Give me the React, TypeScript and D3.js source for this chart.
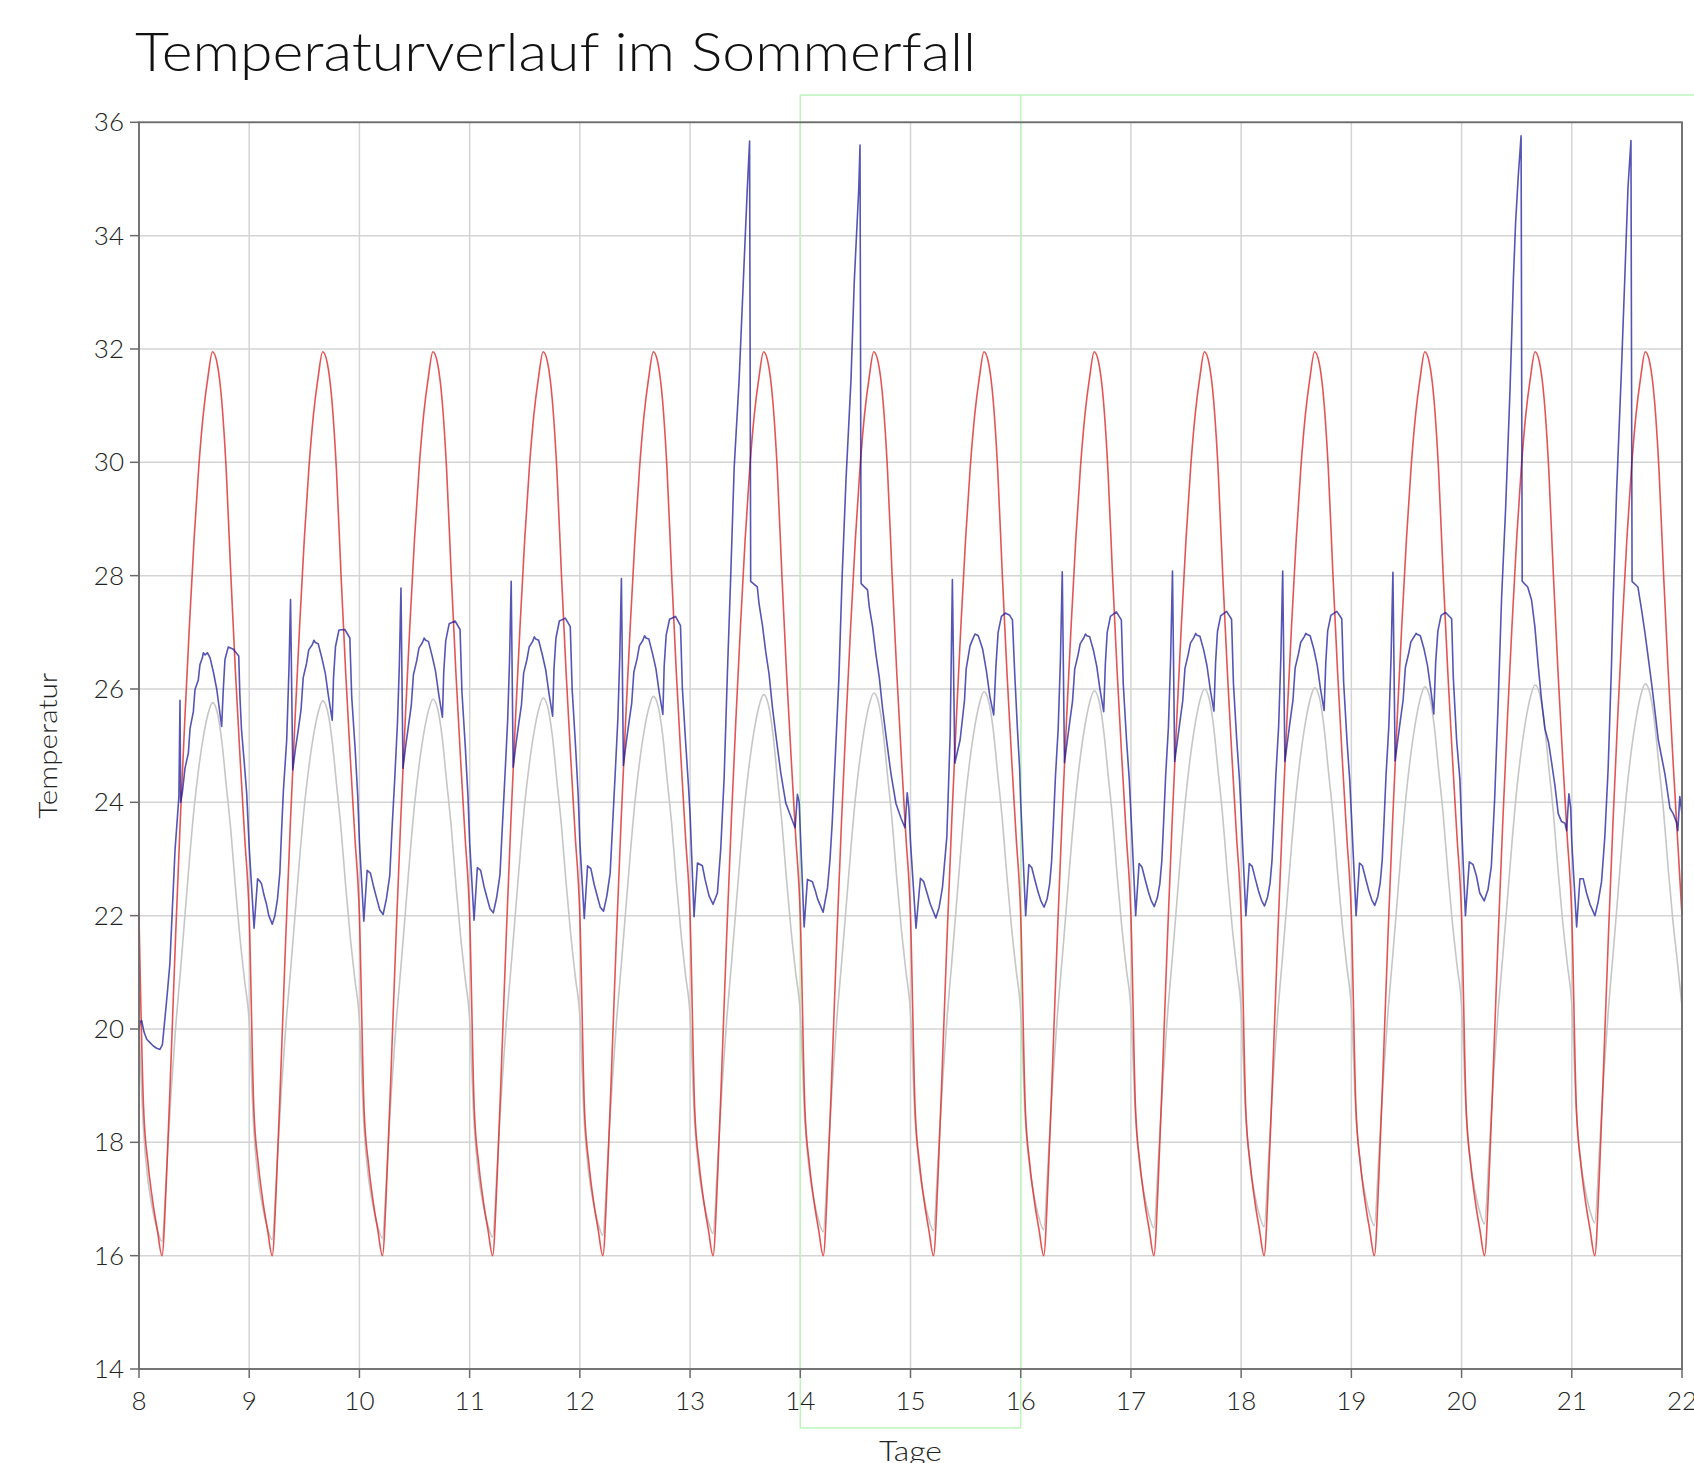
import React from 'react';
import * as d3 from 'd3';

// ---------- texts ----------
const chartTitle = 'Temperaturverlauf im Sommerfall';
const xAxisLabel = 'Tage';
const yAxisLabel = 'Temperatur';

// ---------- axes ----------
const xTicks = [8, 9, 10, 11, 12, 13, 14, 15, 16, 17, 18, 19, 20, 21, 22];
const yTicks = [14, 16, 18, 20, 22, 24, 26, 28, 30, 32, 34, 36];
const xDomain = [8, 22];
const yDomain = [14, 36];
const firstDay = 8;

// ---------- highlight (green frame) ----------
const highlightDays = [14, 16];
const highlightTempRange = [12.96, 36.48];
const highlightTopLineEnd = 22.11;

// ---------- outdoor temperature (red), hourly values h0..h23 per day ----------
const outdoorDays: number[][] = [
  [22.0, 18.6, 17.6, 16.95, 16.45, 16.0, 17.4, 19.5, 21.7, 23.7, 25.5, 27.15, 28.65, 29.9, 30.85, 31.5, 31.95, 31.75, 31.1, 29.85, 28.0, 26.3, 24.8, 23.4],
  [22.0, 18.6, 17.6, 16.95, 16.45, 16.0, 17.4, 19.5, 21.7, 23.7, 25.5, 27.15, 28.65, 29.9, 30.85, 31.5, 31.95, 31.75, 31.1, 29.85, 28.0, 26.3, 24.8, 23.4],
  [22.0, 18.6, 17.6, 16.95, 16.45, 16.0, 17.4, 19.5, 21.7, 23.7, 25.5, 27.15, 28.65, 29.9, 30.85, 31.5, 31.95, 31.75, 31.1, 29.85, 28.0, 26.3, 24.8, 23.4],
  [22.0, 18.6, 17.6, 16.95, 16.45, 16.0, 17.4, 19.5, 21.7, 23.7, 25.5, 27.15, 28.65, 29.9, 30.85, 31.5, 31.95, 31.75, 31.1, 29.85, 28.0, 26.3, 24.8, 23.4],
  [22.0, 18.6, 17.6, 16.95, 16.45, 16.0, 17.4, 19.5, 21.7, 23.7, 25.5, 27.15, 28.65, 29.9, 30.85, 31.5, 31.95, 31.75, 31.1, 29.85, 28.0, 26.3, 24.8, 23.4],
  [22.0, 18.6, 17.6, 16.95, 16.45, 16.0, 17.4, 19.5, 21.7, 23.7, 25.5, 27.15, 28.65, 29.9, 30.85, 31.5, 31.95, 31.75, 31.1, 29.85, 28.0, 26.3, 24.8, 23.4],
  [22.0, 18.6, 17.6, 16.95, 16.45, 16.0, 17.4, 19.5, 21.7, 23.7, 25.5, 27.15, 28.65, 29.9, 30.85, 31.5, 31.95, 31.75, 31.1, 29.85, 28.0, 26.3, 24.8, 23.4],
  [22.0, 18.6, 17.6, 16.95, 16.45, 16.0, 17.4, 19.5, 21.7, 23.7, 25.5, 27.15, 28.65, 29.9, 30.85, 31.5, 31.95, 31.75, 31.1, 29.85, 28.0, 26.3, 24.8, 23.4],
  [22.0, 18.6, 17.6, 16.95, 16.45, 16.0, 17.4, 19.5, 21.7, 23.7, 25.5, 27.15, 28.65, 29.9, 30.85, 31.5, 31.95, 31.75, 31.1, 29.85, 28.0, 26.3, 24.8, 23.4],
  [22.0, 18.6, 17.6, 16.95, 16.45, 16.0, 17.4, 19.5, 21.7, 23.7, 25.5, 27.15, 28.65, 29.9, 30.85, 31.5, 31.95, 31.75, 31.1, 29.85, 28.0, 26.3, 24.8, 23.4],
  [22.0, 18.6, 17.6, 16.95, 16.45, 16.0, 17.4, 19.5, 21.7, 23.7, 25.5, 27.15, 28.65, 29.9, 30.85, 31.5, 31.95, 31.75, 31.1, 29.85, 28.0, 26.3, 24.8, 23.4],
  [22.0, 18.6, 17.6, 16.95, 16.45, 16.0, 17.4, 19.5, 21.7, 23.7, 25.5, 27.15, 28.65, 29.9, 30.85, 31.5, 31.95, 31.75, 31.1, 29.85, 28.0, 26.3, 24.8, 23.4],
  [22.0, 18.6, 17.6, 16.95, 16.45, 16.0, 17.4, 19.5, 21.7, 23.7, 25.5, 27.15, 28.65, 29.9, 30.85, 31.5, 31.95, 31.75, 31.1, 29.85, 28.0, 26.3, 24.8, 23.4],
  [22.0, 18.6, 17.6, 16.95, 16.45, 16.0, 17.4, 19.5, 21.7, 23.7, 25.5, 27.15, 28.65, 29.9, 30.85, 31.5, 31.95, 31.75, 31.1, 29.85, 28.0, 26.3, 24.8, 23.4],
];
const outdoorLast = 22.0;

// ---------- grey series, hourly values h0..h23 per day ----------
const greyDays: number[][] = [
  [20.1, 18.2, 17.3, 16.8, 16.45, 16.25, 17.5, 18.9, 20.05, 21.0, 22.0, 23.0, 23.9, 24.6, 25.15, 25.55, 25.76, 25.6, 25.1, 24.3, 23.5, 22.5, 21.6, 20.85],
  [20.13, 18.23, 17.33, 16.83, 16.48, 16.28, 17.53, 18.93, 20.08, 21.03, 22.03, 23.03, 23.93, 24.63, 25.18, 25.58, 25.79, 25.63, 25.13, 24.33, 23.53, 22.53, 21.63, 20.88],
  [20.16, 18.26, 17.36, 16.86, 16.51, 16.31, 17.56, 18.96, 20.11, 21.06, 22.06, 23.06, 23.96, 24.66, 25.21, 25.61, 25.82, 25.66, 25.16, 24.36, 23.56, 22.56, 21.66, 20.91],
  [20.18, 18.28, 17.38, 16.88, 16.53, 16.33, 17.58, 18.98, 20.13, 21.08, 22.08, 23.08, 23.98, 24.68, 25.23, 25.63, 25.84, 25.68, 25.18, 24.38, 23.58, 22.58, 21.68, 20.93],
  [20.21, 18.31, 17.41, 16.91, 16.56, 16.36, 17.61, 19.01, 20.16, 21.11, 22.11, 23.11, 24.01, 24.71, 25.26, 25.66, 25.87, 25.71, 25.21, 24.41, 23.61, 22.61, 21.71, 20.96],
  [20.24, 18.34, 17.44, 16.94, 16.59, 16.39, 17.64, 19.04, 20.19, 21.14, 22.14, 23.14, 24.04, 24.74, 25.29, 25.69, 25.9, 25.74, 25.24, 24.44, 23.64, 22.64, 21.74, 20.99],
  [20.27, 18.37, 17.47, 16.97, 16.62, 16.42, 17.67, 19.07, 20.22, 21.17, 22.17, 23.17, 24.07, 24.77, 25.32, 25.72, 25.93, 25.77, 25.27, 24.47, 23.67, 22.67, 21.77, 21.02],
  [20.29, 18.39, 17.49, 16.99, 16.64, 16.44, 17.69, 19.09, 20.24, 21.19, 22.19, 23.19, 24.09, 24.79, 25.34, 25.74, 25.95, 25.79, 25.29, 24.49, 23.69, 22.69, 21.79, 21.04],
  [20.31, 18.41, 17.51, 17.01, 16.66, 16.46, 17.71, 19.11, 20.26, 21.21, 22.21, 23.21, 24.11, 24.81, 25.36, 25.76, 25.97, 25.81, 25.31, 24.51, 23.71, 22.71, 21.81, 21.06],
  [20.34, 18.44, 17.54, 17.04, 16.69, 16.49, 17.74, 19.14, 20.29, 21.24, 22.24, 23.24, 24.14, 24.84, 25.39, 25.79, 26.0, 25.84, 25.34, 24.54, 23.74, 22.74, 21.84, 21.09],
  [20.36, 18.46, 17.56, 17.06, 16.71, 16.51, 17.76, 19.16, 20.31, 21.26, 22.26, 23.26, 24.16, 24.86, 25.41, 25.81, 26.02, 25.86, 25.36, 24.56, 23.76, 22.76, 21.86, 21.11],
  [20.38, 18.48, 17.58, 17.08, 16.73, 16.53, 17.78, 19.18, 20.33, 21.28, 22.28, 23.28, 24.18, 24.88, 25.43, 25.83, 26.04, 25.88, 25.38, 24.58, 23.78, 22.78, 21.88, 21.13],
  [20.41, 18.51, 17.61, 17.11, 16.76, 16.56, 17.81, 19.21, 20.36, 21.31, 22.31, 23.31, 24.21, 24.91, 25.46, 25.86, 26.07, 25.91, 25.41, 24.61, 23.81, 22.81, 21.91, 21.16],
  [20.43, 18.53, 17.63, 17.13, 16.78, 16.58, 17.83, 19.23, 20.38, 21.33, 22.33, 23.33, 24.23, 24.93, 25.48, 25.88, 26.09, 25.93, 25.43, 24.63, 23.83, 22.83, 21.93, 21.18],
];
const greyLast = 20.4;

// ---------- room temperature (blue): [fraction of day, value] per day ----------
const roomDay08: [number, number][] = [
  [0.0, 20.0], [0.009, 20.12], [0.024, 20.15], [0.045, 19.95], [0.07, 19.82], [0.1, 19.76], [0.13, 19.7], [0.16, 19.66],
  [0.19, 19.64], [0.212, 19.72], [0.236, 20.2], [0.26, 20.7], [0.28, 21.15], [0.3, 22.0], [0.327, 23.16], [0.362, 24.1],
  [0.372, 25.8], [0.378, 24.0], [0.395, 24.2], [0.417, 24.6], [0.448, 24.87], [0.463, 25.3], [0.493, 25.6], [0.508, 25.99],
  [0.538, 26.16], [0.553, 26.43], [0.575, 26.55], [0.584, 26.64], [0.6, 26.6], [0.62, 26.64], [0.645, 26.55], [0.675, 26.3],
  [0.705, 26.0], [0.75, 25.34], [0.765, 26.0], [0.78, 26.52], [0.81, 26.74], [0.856, 26.7], [0.905, 26.58], [0.915, 25.9],
  [0.93, 25.28], [0.955, 24.7], [0.977, 24.16],
];
const roomDay09: [number, number][] = [
  [0.0, 23.2], [0.044, 21.78], [0.076, 22.65], [0.1, 22.6], [0.112, 22.56], [0.136, 22.35], [0.157, 22.2], [0.178, 22.0],
  [0.209, 21.85], [0.233, 22.0], [0.257, 22.3], [0.278, 22.76], [0.293, 23.47], [0.31, 24.2], [0.34, 25.1], [0.36, 26.3],
  [0.375, 27.58], [0.395, 24.57], [0.42, 24.95], [0.445, 25.28], [0.47, 25.63], [0.49, 26.2], [0.52, 26.45], [0.54, 26.69],
  [0.572, 26.78], [0.587, 26.86], [0.6, 26.82], [0.626, 26.8], [0.66, 26.54], [0.69, 26.28], [0.72, 25.86], [0.753, 25.45],
  [0.765, 26.2], [0.783, 26.75], [0.814, 27.04], [0.868, 27.05], [0.913, 26.9], [0.93, 25.86], [0.96, 24.98], [0.985, 24.1],
];
const roomDay10: [number, number][] = [
  [0.0, 23.3], [0.04, 21.9], [0.07, 22.8], [0.1, 22.75], [0.13, 22.5], [0.157, 22.3], [0.185, 22.1], [0.215, 22.02],
  [0.245, 22.3], [0.275, 22.7], [0.295, 23.5], [0.32, 24.4], [0.345, 25.4], [0.362, 26.4], [0.377, 27.78], [0.395, 24.6],
  [0.42, 25.0], [0.445, 25.35], [0.47, 25.7], [0.49, 26.25], [0.52, 26.5], [0.54, 26.72], [0.572, 26.82], [0.587, 26.9],
  [0.6, 26.86], [0.626, 26.84], [0.66, 26.58], [0.69, 26.32], [0.72, 25.9], [0.753, 25.5], [0.765, 26.3], [0.783, 26.85],
  [0.814, 27.15], [0.868, 27.2], [0.913, 27.05], [0.93, 25.95], [0.96, 25.0], [0.985, 24.1],
];
const roomDay11: [number, number][] = [
  [0.0, 23.3], [0.04, 21.92], [0.07, 22.85], [0.1, 22.8], [0.13, 22.52], [0.157, 22.32], [0.185, 22.12], [0.215, 22.05],
  [0.245, 22.32], [0.275, 22.72], [0.295, 23.5], [0.32, 24.45], [0.345, 25.45], [0.362, 26.5], [0.377, 27.9], [0.395, 24.62],
  [0.42, 25.02], [0.445, 25.38], [0.47, 25.72], [0.49, 26.28], [0.52, 26.52], [0.54, 26.74], [0.572, 26.84], [0.587, 26.92],
  [0.6, 26.88], [0.626, 26.86], [0.66, 26.6], [0.69, 26.34], [0.72, 25.92], [0.753, 25.52], [0.765, 26.35], [0.783, 26.9],
  [0.814, 27.2], [0.868, 27.25], [0.913, 27.1], [0.93, 26.0], [0.96, 25.02], [0.985, 24.12],
];
const roomDay12: [number, number][] = [
  [0.0, 23.3], [0.04, 21.95], [0.07, 22.88], [0.1, 22.83], [0.13, 22.55], [0.157, 22.35], [0.185, 22.15], [0.215, 22.08],
  [0.245, 22.35], [0.275, 22.75], [0.295, 23.52], [0.32, 24.48], [0.345, 25.48], [0.362, 26.55], [0.377, 27.95], [0.395, 24.65],
  [0.42, 25.05], [0.445, 25.4], [0.47, 25.74], [0.49, 26.3], [0.52, 26.54], [0.54, 26.76], [0.572, 26.86], [0.587, 26.94],
  [0.6, 26.9], [0.626, 26.88], [0.66, 26.62], [0.69, 26.36], [0.72, 25.94], [0.753, 25.55], [0.765, 26.4], [0.783, 26.95],
  [0.814, 27.23], [0.868, 27.28], [0.913, 27.12], [0.93, 26.02], [0.96, 25.05], [0.985, 24.3],
];
const roomDay13: [number, number][] = [
  [0.0, 23.8], [0.036, 21.98], [0.067, 22.93], [0.112, 22.88], [0.136, 22.64], [0.172, 22.35], [0.209, 22.2], [0.248, 22.4],
  [0.278, 23.17], [0.309, 24.43], [0.339, 26.3], [0.369, 28.0], [0.4, 29.9], [0.445, 31.45], [0.485, 33.28], [0.52, 34.86],
  [0.54, 35.67], [0.55, 27.9], [0.61, 27.8], [0.626, 27.5], [0.656, 27.13], [0.687, 26.65], [0.717, 26.26], [0.747, 25.68],
  [0.784, 25.1], [0.823, 24.52], [0.868, 23.99], [0.914, 23.75], [0.953, 23.55], [0.974, 24.14], [0.99, 24.0],
];
const roomDay14: [number, number][] = [
  [0.0, 23.5], [0.035, 21.8], [0.065, 22.64], [0.11, 22.6], [0.135, 22.45], [0.156, 22.3], [0.207, 22.06], [0.247, 22.49],
  [0.27, 23.0], [0.29, 23.65], [0.32, 24.9], [0.35, 26.17], [0.38, 28.0], [0.415, 29.7], [0.46, 31.45], [0.49, 33.2],
  [0.53, 34.8], [0.542, 35.6], [0.552, 27.86], [0.61, 27.75], [0.626, 27.45], [0.656, 27.1], [0.687, 26.6], [0.717, 26.2],
  [0.747, 25.65], [0.784, 25.08], [0.823, 24.5], [0.868, 23.98], [0.914, 23.72], [0.95, 23.55], [0.97, 24.17], [0.985, 23.9],
];
const roomDay15: [number, number][] = [
  [0.0, 23.3], [0.05, 21.78], [0.09, 22.66], [0.12, 22.6], [0.15, 22.4], [0.18, 22.2], [0.23, 21.96], [0.26, 22.15],
  [0.29, 22.5], [0.33, 23.4], [0.36, 25.2], [0.38, 27.93], [0.402, 24.69], [0.45, 25.1], [0.49, 25.8], [0.505, 26.35],
  [0.54, 26.76], [0.565, 26.88], [0.585, 26.97], [0.615, 26.94], [0.655, 26.7], [0.69, 26.3], [0.72, 25.87], [0.755, 25.54],
  [0.775, 26.4], [0.795, 27.0], [0.825, 27.28], [0.86, 27.34], [0.9, 27.3], [0.925, 27.22], [0.945, 26.3], [0.97, 25.3],
  [0.99, 24.6],
];
const roomDay16: [number, number][] = [
  [0.0, 24.0], [0.045, 22.0], [0.074, 22.9], [0.1, 22.85], [0.13, 22.62], [0.157, 22.42], [0.185, 22.25], [0.212, 22.15],
  [0.24, 22.3], [0.262, 22.55], [0.28, 22.95], [0.296, 23.6], [0.315, 24.45], [0.34, 25.3], [0.36, 26.5], [0.377, 28.07],
  [0.397, 24.7], [0.42, 25.05], [0.445, 25.42], [0.47, 25.78], [0.49, 26.35], [0.52, 26.6], [0.54, 26.8], [0.572, 26.9],
  [0.587, 26.97], [0.6, 26.94], [0.626, 26.92], [0.66, 26.68], [0.69, 26.4], [0.72, 25.98], [0.753, 25.6], [0.768, 26.45],
  [0.785, 27.0], [0.814, 27.28], [0.868, 27.36], [0.913, 27.22], [0.93, 26.1], [0.96, 25.1], [0.985, 24.4],
];
const roomDay17: [number, number][] = [
  [0.0, 23.8], [0.043, 22.0], [0.074, 22.92], [0.1, 22.86], [0.13, 22.63], [0.157, 22.43], [0.185, 22.26], [0.212, 22.16],
  [0.24, 22.32], [0.262, 22.56], [0.28, 22.96], [0.296, 23.62], [0.315, 24.47], [0.34, 25.32], [0.36, 26.52], [0.377, 28.08],
  [0.397, 24.72], [0.42, 25.06], [0.445, 25.43], [0.47, 25.79], [0.49, 26.36], [0.52, 26.61], [0.54, 26.81], [0.572, 26.91],
  [0.587, 26.98], [0.6, 26.95], [0.626, 26.93], [0.66, 26.69], [0.69, 26.41], [0.72, 25.99], [0.753, 25.61], [0.768, 26.46],
  [0.785, 27.01], [0.814, 27.29], [0.868, 27.37], [0.913, 27.23], [0.93, 26.1], [0.96, 25.1], [0.985, 24.4],
];
const roomDay18: [number, number][] = [
  [0.0, 23.8], [0.043, 22.0], [0.074, 22.92], [0.1, 22.87], [0.13, 22.64], [0.157, 22.44], [0.185, 22.27], [0.212, 22.17],
  [0.24, 22.33], [0.262, 22.57], [0.28, 22.97], [0.296, 23.63], [0.315, 24.48], [0.34, 25.33], [0.36, 26.53], [0.377, 28.08],
  [0.397, 24.72], [0.42, 25.07], [0.445, 25.44], [0.47, 25.8], [0.49, 26.37], [0.52, 26.62], [0.54, 26.82], [0.572, 26.92],
  [0.587, 26.98], [0.6, 26.96], [0.626, 26.94], [0.66, 26.7], [0.69, 26.42], [0.72, 26.0], [0.753, 25.62], [0.768, 26.47],
  [0.785, 27.02], [0.814, 27.3], [0.868, 27.37], [0.913, 27.24], [0.93, 26.12], [0.96, 25.1], [0.985, 24.4],
];
const roomDay19: [number, number][] = [
  [0.0, 23.8], [0.043, 22.0], [0.074, 22.93], [0.1, 22.88], [0.13, 22.65], [0.157, 22.45], [0.185, 22.28], [0.212, 22.18],
  [0.24, 22.34], [0.262, 22.58], [0.28, 22.98], [0.296, 23.64], [0.315, 24.49], [0.34, 25.34], [0.36, 26.54], [0.377, 28.06],
  [0.397, 24.73], [0.42, 25.08], [0.445, 25.45], [0.47, 25.81], [0.49, 26.38], [0.52, 26.63], [0.54, 26.83], [0.572, 26.93],
  [0.587, 26.98], [0.6, 26.96], [0.626, 26.94], [0.66, 26.7], [0.69, 26.42], [0.72, 26.0], [0.748, 25.56], [0.765, 26.47],
  [0.785, 27.02], [0.814, 27.3], [0.855, 27.35], [0.91, 27.24], [0.925, 26.2], [0.955, 25.1], [0.985, 24.4],
];
const roomDay20: [number, number][] = [
  [0.0, 23.6], [0.035, 22.0], [0.07, 22.95], [0.105, 22.9], [0.135, 22.7], [0.165, 22.4], [0.205, 22.26], [0.24, 22.46],
  [0.27, 22.87], [0.3, 24.05], [0.333, 25.8], [0.363, 27.6], [0.4, 29.2], [0.44, 31.3], [0.47, 33.22], [0.49, 34.22],
  [0.514, 35.04], [0.54, 35.76], [0.55, 27.9], [0.6, 27.8], [0.635, 27.57], [0.665, 27.1], [0.696, 26.4], [0.726, 25.8],
  [0.756, 25.3], [0.79, 25.05], [0.817, 24.7], [0.847, 24.3], [0.877, 23.8], [0.907, 23.66], [0.938, 23.63], [0.953, 23.5],
  [0.974, 24.15], [0.99, 23.9],
];
const roomDay21: [number, number][] = [
  [0.0, 23.3], [0.044, 21.8], [0.074, 22.65], [0.104, 22.65], [0.134, 22.4], [0.165, 22.2], [0.21, 22.0], [0.24, 22.25],
  [0.27, 22.6], [0.3, 23.4], [0.33, 24.6], [0.36, 26.4], [0.376, 27.6], [0.407, 29.5], [0.45, 31.6], [0.48, 33.2],
  [0.51, 34.85], [0.537, 35.68], [0.547, 27.9], [0.6, 27.8], [0.633, 27.4], [0.664, 26.99], [0.694, 26.55], [0.724, 26.1],
  [0.755, 25.6], [0.785, 25.1], [0.815, 24.8], [0.845, 24.5], [0.89, 23.9], [0.92, 23.8], [0.95, 23.65], [0.962, 23.5],
  [0.98, 24.1],
];
const roomDays = [
  roomDay08, roomDay09, roomDay10, roomDay11, roomDay12, roomDay13, roomDay14,
  roomDay15, roomDay16, roomDay17, roomDay18, roomDay19, roomDay20, roomDay21,
];
const roomLast = 23.8;

// ---------- layout ----------
const WIDTH = 1694;
const HEIGHT = 1463;
const margin = { left: 139, right: 12, top: 122.3, bottom: 94 };
const FONT = "Lato, 'Open Sans', 'DejaVu Sans', sans-serif";

type Pt = [number, number];

function hourlySeries(days: number[][], last: number): Pt[] {
  const pts: Pt[] = [];
  days.forEach((row, i) => {
    row.forEach((v, h) => pts.push([firstDay + i + h / 24, v]));
  });
  pts.push([firstDay + days.length, last]);
  return pts;
}

function daySeries(days: [number, number][][], last: number): Pt[] {
  const pts: Pt[] = [];
  days.forEach((row, i) => {
    row.forEach(([f, v]) => pts.push([firstDay + i + f, v]));
  });
  pts.push([firstDay + days.length, last]);
  return pts;
}

export default function App() {
  const x = d3.scaleLinear().domain(xDomain).range([margin.left, WIDTH - margin.right]);
  const y = d3.scaleLinear().domain(yDomain).range([HEIGHT - margin.bottom, margin.top]);

  const smooth = d3.line<Pt>().x((d) => x(d[0])).y((d) => y(d[1])).curve(d3.curveMonotoneX);
  const straight = d3.line<Pt>().x((d) => x(d[0])).y((d) => y(d[1]));

  const outdoor = hourlySeries(outdoorDays, outdoorLast);
  const grey = hourlySeries(greyDays, greyLast);
  const room = daySeries(roomDays, roomLast);

  const x0 = x(xDomain[0]);
  const x1 = x(xDomain[1]);
  const y0 = y(yDomain[0]);
  const y1 = y(yDomain[1]);

  const hx0 = x(highlightDays[0]);
  const hx1 = x(highlightDays[1]);
  const hyTop = y(highlightTempRange[1]);
  const hyBot = y(highlightTempRange[0]);
  const hxEnd = x(highlightTopLineEnd);

  const axisColor = '#6a6a6a';
  const gridColor = '#d4d4d4';
  const green = '#bdf5bd';

  return (
    <svg
      width={WIDTH}
      height={HEIGHT}
      style={{ position: 'absolute', left: 0, top: 0, background: '#fff' }}
      fontFamily={FONT}
    >
      <rect x={0} y={0} width={WIDTH} height={HEIGHT} fill="#fff" />
      {/* title */}
      <text x={135} y={71} fontSize={54} fontWeight={300} fill="#111" textLength={841} lengthAdjust="spacingAndGlyphs">
        {chartTitle}
      </text>

      {/* grid */}
      {xTicks.map((t) => (
        <line key={'gx' + t} x1={x(t)} x2={x(t)} y1={y1} y2={y0} stroke={gridColor} strokeWidth={1.5} />
      ))}
      {yTicks.map((t) => (
        <line key={'gy' + t} x1={x0} x2={x1} y1={y(t)} y2={y(t)} stroke={gridColor} strokeWidth={1.5} />
      ))}

      {/* green highlight frame */}
      <rect x={hx0} y={hyTop} width={hx1 - hx0} height={hyBot - hyTop} fill="none" stroke={green} strokeWidth={1.5} />
      <line x1={hx1} x2={hxEnd} y1={hyTop} y2={hyTop} stroke={green} strokeWidth={1.5} />

      {/* series */}
      <path d={smooth(grey) || ''} fill="none" stroke="#c6c6c6" strokeWidth={1.6} />
      <path d={smooth(outdoor) || ''} fill="none" stroke="#dc2a2a" strokeOpacity={0.8} strokeWidth={1.6} />
      <path d={straight(room) || ''} fill="none" stroke="#14149a" strokeOpacity={0.72} strokeWidth={1.6} strokeLinejoin="round" />

      {/* frame */}
      <rect x={x0} y={y1} width={x1 - x0} height={y0 - y1} fill="none" stroke={axisColor} strokeWidth={1.8} />

      {/* y ticks */}
      {yTicks.map((t) => (
        <g key={'ty' + t}>
          <line x1={x0 - 9} x2={x0} y1={y(t)} y2={y(t)} stroke={axisColor} strokeWidth={1.5} />
          <text x={x0 - 15} y={y(t)} dy="0.35em" textAnchor="end" fontSize={26} fontWeight={300} fill="#222">
            {t}
          </text>
        </g>
      ))}
      {/* x ticks */}
      {xTicks.map((t) => (
        <g key={'tx' + t}>
          <line x1={x(t)} x2={x(t)} y1={y0} y2={y0 + 9} stroke={axisColor} strokeWidth={1.5} />
          <text x={x(t)} y={y0 + 41} textAnchor="middle" fontSize={26} fontWeight={300} fill="#222">
            {t}
          </text>
        </g>
      ))}

      {/* axis labels */}
      <text x={(x0 + x1) / 2} y={1461} textAnchor="middle" fontSize={27} fontWeight={300} fill="#222" textLength={63} lengthAdjust="spacingAndGlyphs">
        {xAxisLabel}
      </text>
      <text
        transform={`translate(57, ${(y0 + y1) / 2}) rotate(-90)`}
        textAnchor="middle"
        fontSize={26}
        fontWeight={300}
        fill="#222"
        textLength={146}
        lengthAdjust="spacingAndGlyphs"
      >
        {yAxisLabel}
      </text>
    </svg>
  );
}
